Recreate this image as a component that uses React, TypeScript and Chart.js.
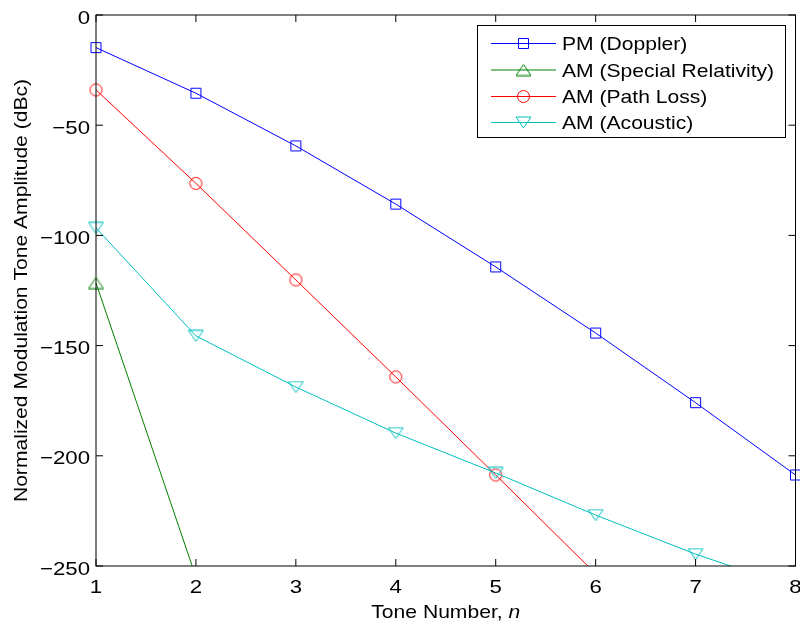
import { useEffect, useRef } from "react";
import { Chart, registerables } from "chart.js";

Chart.register(...registerables);

// Harmonic (tone) index
const toneNumbers = [1, 2, 3, 4, 5, 6, 7, 8];

// Normalized tone amplitudes in dBc for each modulation mechanism
const pmDoppler = [-14.8, -35.5, -59.4, -85.8, -114.3, -144.3, -175.9, -208.7];
const amSpecialRelativity = [-121.6, -255];
const amPathLoss = [-34.0, -76.4, -120.2, -164.2, -208.7, -253.5];
const amAcoustic = [-96.6, -145.6, -168.8, -189.7, -207.8, -226.9, -244.6, -260];

const seriesNames = [
  "PM (Doppler)",
  "AM (Special Relativity)",
  "AM (Path Loss)",
  "AM (Acoustic)",
];
const seriesColors = ["#0000ff", "#008000", "#ff0000", "#00bfbf"];
const seriesMarkers = ["square", "triangleUp", "circle", "triangleDown"];

const xTickValues = [1, 2, 3, 4, 5, 6, 7, 8];
const yTickValues = [0, -50, -100, -150, -200, -250];

const xTitle = "Tone Number, ";
const xTitleVar = "n";
const yTitle = "Normalized Modulation Tone Amplitude (dBc)";

const FONT = "Liberation Sans, Arial, Helvetica, sans-serif";
const FS = 19;
// glyphs of this figure's font run wide; widen text along its baseline
const TICK_SX = 1.17;
const LEGEND_SX = 1.11;
const TITLE_SX = 1.11;

// Hollow marker glyphs, drawn once into small canvases
function makeMarker(kind: string, color: string): HTMLCanvasElement {
  const c = document.createElement("canvas");
  let w = 13;
  let h = 13;
  if (kind === "circle") {
    w = 15;
    h = 15;
  } else if (kind === "triangleUp" || kind === "triangleDown") {
    w = 17;
    h = 13;
  }
  c.width = w;
  c.height = h;
  const g = c.getContext("2d")!;
  g.strokeStyle = color;
  g.lineWidth = 1;
  g.beginPath();
  if (kind === "square") {
    g.rect(1.5, 1.5, 10, 10);
  } else if (kind === "circle") {
    g.arc(7.5, 7.5, 6, 0, Math.PI * 2);
  } else if (kind === "triangleUp") {
    g.moveTo(8.5, 1);
    g.lineTo(16, 12);
    g.lineTo(1, 12);
    g.closePath();
  } else {
    g.moveTo(8.5, 12);
    g.lineTo(16, 1);
    g.lineTo(1, 1);
    g.closePath();
  }
  g.stroke();
  return c;
}

const fmt = (v: number) => (v < 0 ? "\u2212" + Math.abs(v) : String(v));

function drawText(
  ctx: CanvasRenderingContext2D,
  text: string,
  x: number,
  y: number,
  align: CanvasTextAlign,
  sx: number,
  font: string,
  rotate = 0
) {
  ctx.save();
  ctx.translate(x, y);
  if (rotate) ctx.rotate(rotate);
  ctx.scale(sx, 1);
  ctx.font = font;
  ctx.textAlign = align;
  ctx.textBaseline = "alphabetic";
  ctx.fillText(text, 0, 0);
  ctx.restore();
}

let markers: HTMLCanvasElement[] = [];

const framePlugin = {
  id: "matlabFrame",
  afterDraw(chart: any) {
    const { ctx, chartArea } = chart;
    const xs = chart.scales.x;
    const ys = chart.scales.y;
    const { left, right, top, bottom } = chartArea;
    const tick = 7;
    const plain = `${FS}px ${FONT}`;
    const italic = `italic ${FS}px ${FONT}`;

    ctx.save();
    ctx.strokeStyle = "#000";
    ctx.lineWidth = 1;
    ctx.strokeRect(left, top, right - left, bottom - top);

    ctx.beginPath();
    for (const v of xTickValues) {
      const px = xs.getPixelForValue(v);
      ctx.moveTo(px, bottom);
      ctx.lineTo(px, bottom - tick);
      ctx.moveTo(px, top);
      ctx.lineTo(px, top + tick);
    }
    for (const v of yTickValues) {
      const py = ys.getPixelForValue(v);
      ctx.moveTo(left, py);
      ctx.lineTo(left + tick, py);
      ctx.moveTo(right, py);
      ctx.lineTo(right - tick, py);
    }
    ctx.stroke();

    // tick labels
    ctx.fillStyle = "#000";
    for (const v of xTickValues) {
      drawText(ctx, fmt(v), xs.getPixelForValue(v), bottom + 27, "center", TICK_SX, plain);
    }
    for (const v of yTickValues) {
      drawText(ctx, fmt(v), left - 6, ys.getPixelForValue(v) + 8.5, "right", TICK_SX, plain);
    }

    // x title with italic variable
    ctx.font = plain;
    const wPlain = ctx.measureText(xTitle).width * TITLE_SX;
    ctx.font = italic;
    const wVar = ctx.measureText(xTitleVar).width * TITLE_SX;
    const cx = (left + right) / 2;
    const x0 = cx - (wPlain + wVar) / 2;
    drawText(ctx, xTitle, x0, 618, "left", TITLE_SX, plain);
    drawText(ctx, xTitleVar, x0 + wPlain, 618, "left", TITLE_SX, italic);

    // y title
    drawText(ctx, yTitle, 27, (top + bottom) / 2, "center", TITLE_SX, plain, -Math.PI / 2);

    // legend
    const lx = 477.5;
    const ly = 25.5;
    const lw = 308;
    const lh = 112;
    ctx.fillStyle = "#fff";
    ctx.fillRect(lx, ly, lw, lh);
    ctx.strokeStyle = "#000";
    ctx.strokeRect(lx, ly, lw, lh);
    const rows = [43, 69.5, 96, 122];
    seriesNames.forEach((name, i) => {
      const y = rows[i];
      ctx.strokeStyle = seriesColors[i];
      ctx.beginPath();
      ctx.moveTo(491, y + 0.5);
      ctx.lineTo(556, y + 0.5);
      ctx.stroke();
      const m = markers[i];
      ctx.drawImage(m, 523.5 - m.width / 2, y - m.height / 2 + 0.5);
      ctx.fillStyle = "#000";
      drawText(ctx, name, 562, y + 7, "left", LEGEND_SX, plain);
    });
    ctx.restore();
  },
};

export default function App() {
  const ref = useRef<HTMLCanvasElement | null>(null);

  useEffect(() => {
    document.body.style.margin = "0";
    markers = seriesMarkers.map((k, i) => makeMarker(k, seriesColors[i]));
    const series = [pmDoppler, amSpecialRelativity, amPathLoss, amAcoustic];
    const chart = new Chart(ref.current!, {
      type: "line",
      data: {
        datasets: series.map((vals, i) => ({
          label: seriesNames[i],
          data: vals.map((v, j) => ({ x: toneNumbers[j], y: v })),
          borderColor: seriesColors[i],
          borderWidth: 1,
          pointStyle: markers[i],
          pointRadius: 6,
          pointHoverRadius: 6,
          tension: 0,
          fill: false,
          order: 4 - i,
          clip: { left: 12, top: 12, right: 12, bottom: 0 },
        })),
      },
      options: {
        responsive: false,
        animation: false,
        devicePixelRatio: 1,
        events: [],
        layout: {
          autoPadding: false,
          padding: { top: 15, right: 4.5, bottom: 0, left: 0 },
        },
        plugins: {
          legend: { display: false },
          tooltip: { enabled: false },
        },
        scales: {
          x: {
            type: "linear",
            min: 1,
            max: 8,
            grid: { display: false },
            border: { display: false },
            ticks: { display: false },
            afterFit: (s: any) => {
              s.height = 56;
            },
          },
          y: {
            type: "linear",
            min: -250,
            max: 0,
            grid: { display: false },
            border: { display: false },
            ticks: { display: false },
            afterFit: (s: any) => {
              s.width = 96;
            },
          },
        },
      },
      plugins: [framePlugin],
    } as any);
    return () => chart.destroy();
  }, []);

  return (
    <div style={{ width: 800, height: 622, background: "#fff" }}>
      <canvas ref={ref} width={800} height={622} style={{ display: "block" }} />
    </div>
  );
}
